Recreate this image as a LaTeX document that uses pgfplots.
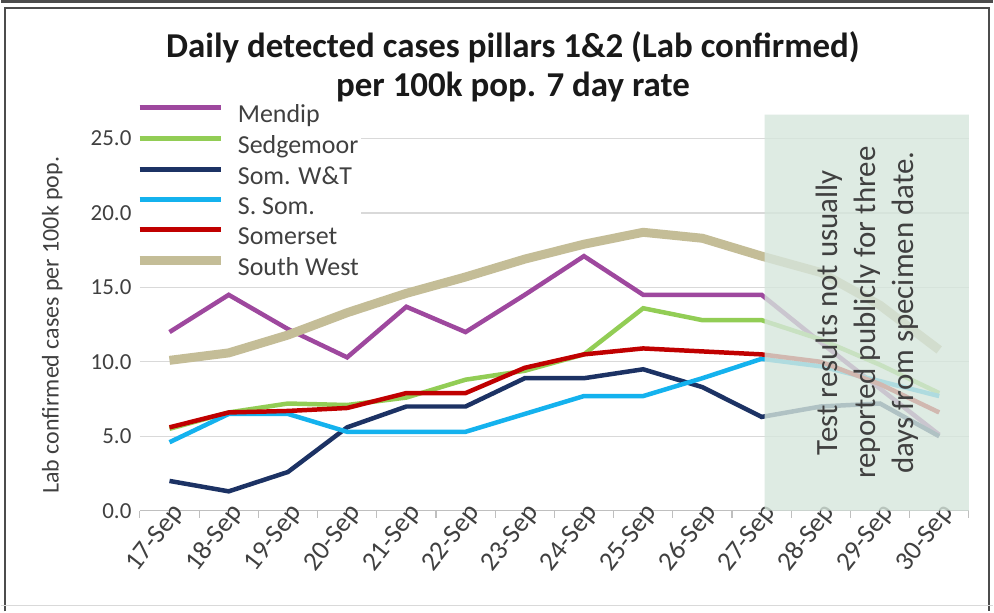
\documentclass[border=0pt]{standalone}
\usepackage{fontspec}
\setmainfont{Carlito}
\usepackage{pgfplots}
\usepackage{pgfplotstable}
\pgfplotsset{compat=1.18}
\definecolor{cMendip}{RGB}{158,72,158}
\definecolor{cSedge}{RGB}{146,205,85}
\definecolor{cWT}{RGB}{28,50,100}
\definecolor{cSSom}{RGB}{20,178,238}
\definecolor{cSomerset}{RGB}{192,0,0}
\definecolor{cSW}{RGB}{196,189,151}
\definecolor{cBox}{RGB}{214,230,220}
\definecolor{cText}{RGB}{64,64,64}
\pgfplotstableread{
x mendip sedge wt ssom somerset sw
0  12.0  5.5  2.0  4.6  5.6  10.1
1  14.5  6.6  1.3  6.5  6.6  10.6
2  12.2  7.2  2.6  6.5  6.7  11.8
3  10.3  7.1  5.6  5.3  6.9  13.3
4  13.7  7.6  7.0  5.3  7.9  14.6
5  12.0  8.8  7.0  5.3  7.9  15.7
6  14.5  9.4  8.9  6.5  9.6  16.9
7  17.1  10.5 8.9  7.7  10.5 17.9
8  14.5  13.6 9.5  7.7  10.9 18.7
9  14.5  12.8 8.3  8.9  10.7 18.3
10 14.5  12.8 6.3  10.2 10.5 17.1
11 11.3  11.5 7.0  9.7  10.0 16.0
12 8.2   9.8  7.2  8.7  8.5  13.8
13 5.1   7.9  5.0  7.7  6.6  10.8
}\data
\begin{document}
\begin{tikzpicture}[x=1bp,y=1bp]
\fill[white] (0,0) rectangle (994,613);
\draw[line width=2.5bp, black!70] (0,611.5) -- (994,611.5);
\draw[line width=2bp, black!70] (4,0) -- (4,605) -- (990,605) -- (990,0);
\draw[line width=1.5bp, black!15] (0,6) -- (994,6);
\node[font=\fontsize{35bp}{40bp}\selectfont\bfseries, align=center, text=black!90] at (513,546)
  {Daily detected cases pillars 1\&2 (Lab confirmed)\\per 100k pop. 7 day rate};
\node[rotate=90, font=\fontsize{24bp}{28bp}\selectfont, text=cText] at (51,287)
  {Lab confirmed cases per 100k pop.};
\begin{axis}[
  at={(139bp,101bp)}, anchor=south west,
  scale only axis, width=831bp, height=397bp,
  xmin=-0.5, xmax=13.5, ymin=0, ymax=26.6,
  axis lines*=left,
  y axis line style={draw=none},
  x axis line style={black!25, line width=1.2bp},
  ytick={0,5,10,15,20,25},
  ytick style={draw=none},
  ymajorgrids,
  major grid style={black!15, line width=1.2bp},
  xtick={0,...,13},
  xticklabels={17-Sep,18-Sep,19-Sep,20-Sep,21-Sep,22-Sep,23-Sep,24-Sep,25-Sep,26-Sep,27-Sep,28-Sep,29-Sep,30-Sep},
  major tick length=0pt,
  minor xtick={-0.5,0.5,...,13.5},
  minor tick length=7bp,
  tick align=outside,
  minor tick style={black!25, line width=1.2bp},
  xticklabel style={rotate=52, anchor=east, font=\fontsize{27bp}{30bp}\selectfont, text=cText, xshift=11bp, yshift=-6bp},
  yticklabel style={xshift=-5bp, font=\fontsize{23bp}{27bp}\selectfont, text=cText, /pgf/number format/.cd, fixed, fixed zerofill, precision=1},
  /pgf/number format/assume math mode=true,
  legend style={at={(0,1)}, anchor=north west, xshift=-6bp, yshift=12bp, draw=none, fill=white,
     font=\fontsize{26bp}{29bp}\selectfont, text=cText, row sep=9.5bp, inner sep=1bp,
     nodes={inner sep=1bp},
     /tikz/every odd column/.append style={column sep=11bp}},
  legend cell align=left,
  legend image code/.code={\draw[#1] (0bp,7bp) -- (82bp,7bp);},
]
\addplot[cMendip, line width=4.5bp] table[x=x,y=mendip]{\data};
\addlegendentry{Mendip}
\addplot[cSedge, line width=4.5bp] table[x=x,y=sedge]{\data};
\addlegendentry{Sedgemoor}
\addplot[cWT, line width=4.5bp] table[x=x,y=wt]{\data};
\addlegendentry{Som. W\&T}
\addplot[cSSom, line width=4.5bp] table[x=x,y=ssom]{\data};
\addlegendentry{S. Som.}
\addplot[cSomerset, line width=4.5bp] table[x=x,y=somerset]{\data};
\addlegendentry{Somerset}
\addplot[cSW, line width=9bp] table[x=x,y=sw]{\data};
\addlegendentry{South West}
\addplot[fill=cBox, draw=none, fill opacity=0.8, forget plot]
  coordinates {(10.05,0) (13.5,0) (13.5,26.6) (10.05,26.6) (10.05,0)};
\node[rotate=90, align=center, font=\fontsize{31bp}{38bp}\selectfont, text=cText]
  at (axis cs:11.78,13.3) {Test results not usually\\reported publicly for three\\days from specimen date.};
\end{axis}
\end{tikzpicture}
\end{document}
